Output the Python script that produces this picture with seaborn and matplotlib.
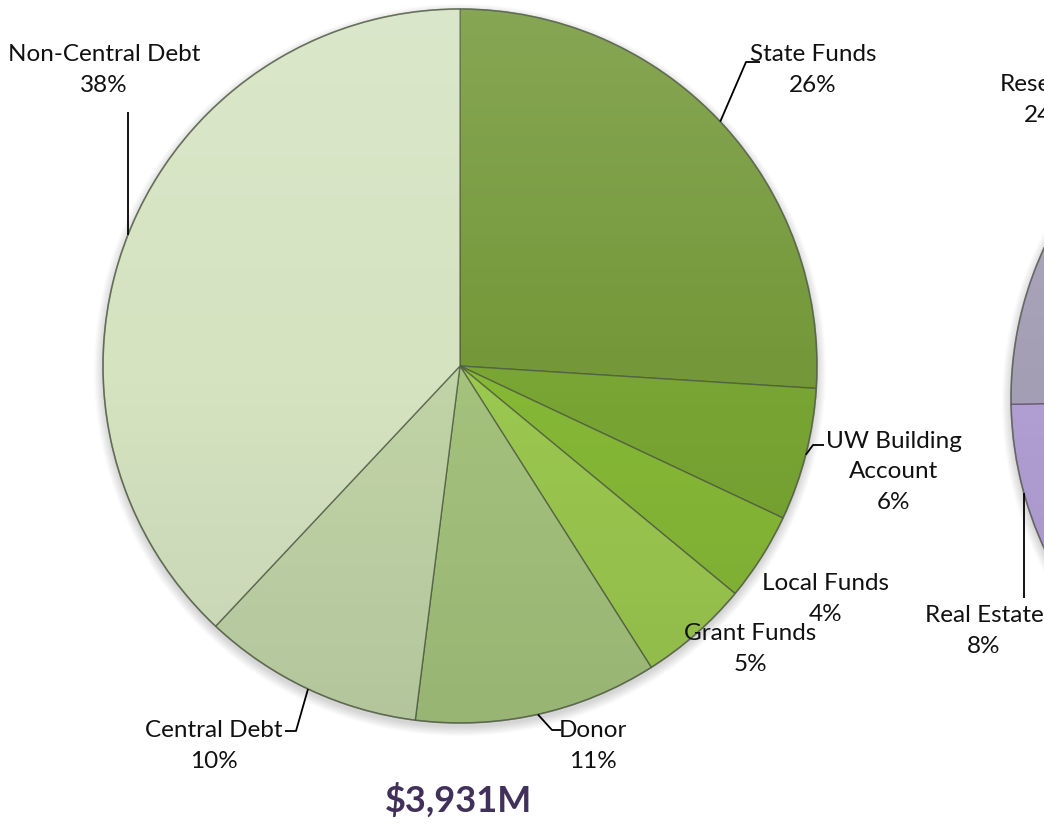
"""Capital funding sources pie (with the neighbouring pie cut off at the right edge)."""

import matplotlib.pyplot as plt
import matplotlib.patches as mpatches
import numpy as np
import seaborn as sns

W, H = 1044, 830
DPI = 100

# left pie: share of total funding
fund_labels = ["State Funds", "UW Building\nAccount", "Local Funds", "Grant Funds",
               "Donor", "Central Debt", "Non-Central Debt"]
fund_pct = [26, 6, 4, 5, 11, 10, 38]
fund_total = "$3,931M"

# right pie, only two slices fall inside the picture
other_labels = ["Real Estate", "Research"]
other_pct = [8, 24]

FUND_COLORS = ["#749839", "#78a533", "#86b836", "#9bc84f", "#a4c27c", "#c1d4a7", "#d5e3c1"]
OTHER_COLORS = ["#b09dd2", "#a49eb5"]
TITLE_COLOR = "#41305a"

R = 357
LEFT_C = (460, 366)      # pixel coords, y from top
RIGHT_C = (1368, 398)
RIGHT_BOUNDARY = 181     # angle of the Real Estate / Research border

# label centres and leader-line bends (pixels, y from top)
FUND_TEXT = [(813, 70), (894, 472), (826, 599), (750, 649), (593, 746), (214, 746), (104, 70)]
FUND_LEADER = [[(746, 62), (760, 62)], [(813, 445), (824, 445)], None, None,
               [(552, 730), (561, 730)], [(296, 731), (285, 731)], [(None, 112)]]
OTHER_TEXT = [(984, 631), (1048, 100)]
OTHER_LEADER = [[(None, 598)], None]


def px(x, y):
    return x, H - y


def shade(ax, cx, cy):
    n = 256
    t = np.linspace(0, 1, n)[:, None]
    rgba = np.zeros((n, 1, 4))
    light = t < 0.5
    rgba[..., 0:3] = np.where(light, 1.0, 0.0)[..., None]
    rgba[..., 3] = np.where(light, 0.14 * (1 - t / 0.5), 0.07 * (t - 0.5) / 0.5)
    circ = mpatches.Circle((cx, cy), R, transform=ax.transData)
    im = ax.imshow(rgba, extent=(cx - R, cx + R, cy - R, cy + R), origin="upper",
                   aspect="auto", interpolation="bilinear", zorder=3)
    im.set_clip_path(circ)
    ax.add_patch(mpatches.Circle((cx, cy), R, fill=False, edgecolor="#55604a",
                                 linewidth=1.2, alpha=0.55, zorder=4))


def shadow(ax, cx, cy):
    for k in range(14):
        ax.add_patch(mpatches.Circle((cx, cy - 4), R + k * 0.7, color="black",
                                     alpha=0.012, linewidth=0, zorder=0))


def draw_labels(ax, wedges, cx, cy, labels, pct, text_pos, leaders):
    for w, lab, p, (tx, ty), lead in zip(wedges, labels, pct, text_pos, leaders):
        ax.text(*px(tx, ty), f"{lab}\n{p}%", ha="center", va="center", fontsize=17.5,
                color="#111111", linespacing=1.55, zorder=6)
        if lead is None:
            continue
        mid = np.deg2rad((w.theta1 + w.theta2) / 2)
        ex, ey = cx + R * np.cos(mid), cy + R * np.sin(mid)
        xs, ys = [ex], [ey]
        for bx, by in lead:
            xs.append(ex if bx is None else bx)
            ys.append(H - by)
        ax.plot(xs, ys, color="black", linewidth=1.3, zorder=6, solid_capstyle="butt")


def main() -> None:
    sns.set_theme(style="white")
    plt.rcParams["font.family"] = ["Lato", "DejaVu Sans"]

    fig = plt.figure(figsize=(W / DPI, H / DPI), dpi=DPI)
    ax = fig.add_axes([0, 0, 1, 1])

    lc = px(*LEFT_C)
    rc = px(*RIGHT_C)
    shadow(ax, *lc)
    shadow(ax, *rc)

    edge = dict(edgecolor=(0.3, 0.35, 0.25, 0.75), linewidth=1.0)
    fund_wedges, _ = ax.pie(fund_pct, colors=sns.color_palette(FUND_COLORS), startangle=90,
                            counterclock=False, center=lc, radius=R, wedgeprops=edge,
                            frame=True)
    other_wedges, _ = ax.pie([p / 100 for p in other_pct], normalize=False,
                             colors=sns.color_palette(OTHER_COLORS),
                             startangle=RIGHT_BOUNDARY + 3.6 * other_pct[0],
                             counterclock=False, center=rc, radius=R,
                             wedgeprops=dict(edgecolor=(0.35, 0.3, 0.4, 0.7), linewidth=1.0),
                             frame=True)
    shade(ax, *lc)
    shade(ax, *rc)

    draw_labels(ax, fund_wedges, *lc, fund_labels, fund_pct, FUND_TEXT, FUND_LEADER)
    draw_labels(ax, other_wedges, *rc, other_labels, other_pct, OTHER_TEXT, OTHER_LEADER)

    ax.text(*px(458, 800), fund_total, ha="center", va="center", fontsize=26,
            fontweight="bold", color=TITLE_COLOR)

    ax.set_xlim(0, W)
    ax.set_ylim(0, H)
    ax.set_aspect("equal")
    ax.axis("off")
    fig.savefig("out.png", dpi=DPI, facecolor="white")
    plt.close(fig)


if __name__ == "__main__":
    main()
